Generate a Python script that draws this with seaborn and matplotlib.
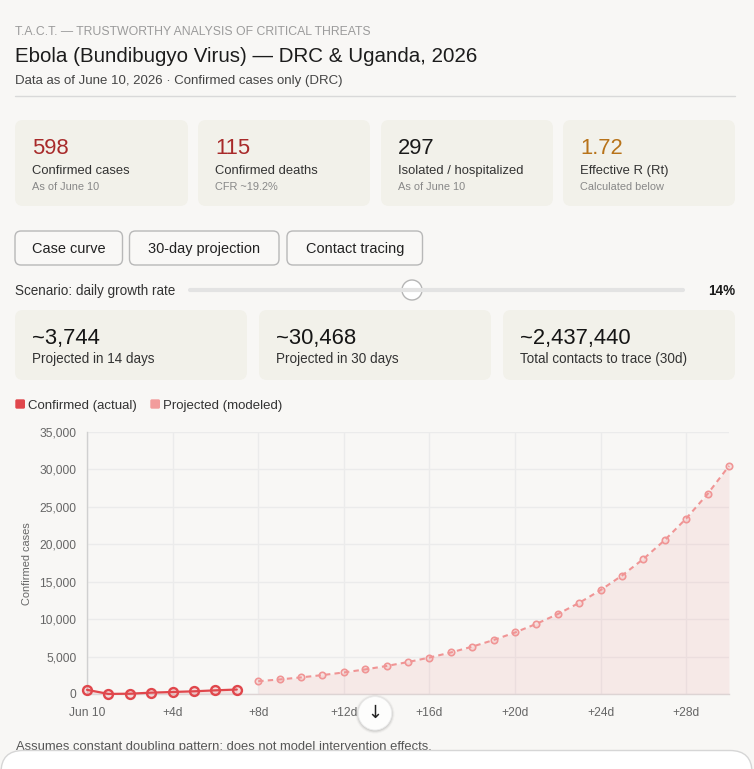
import numpy as np
import pandas as pd
import seaborn as sns
import matplotlib.pyplot as plt
from matplotlib.patches import FancyBboxPatch, Circle
from matplotlib.ticker import FuncFormatter

# ---- data ----
actual_day = [0, 1, 2, 3, 4, 5, 6, 7]
actual_cases = [560, 10, 40, 180, 270, 360, 490, 598]

proj_day = [8, 9, 10, 11, 12, 13, 14, 15, 16, 17, 18, 19, 20,
            21, 22, 23, 24, 25, 26, 27, 28, 29, 30]
proj_cases = [1706, 1945, 2217, 2527, 2881, 3284, 3744, 4269, 4866, 5547, 6324, 7209, 8219,
              9369, 10681, 12176, 13881, 15824, 18040, 20565, 23444, 26726, 30468]

tick_days = [0, 4, 8, 12, 16, 20, 24, 28]
tick_labels = ["Jun 10", "+4d", "+8d", "+12d", "+16d", "+20d", "+24d", "+28d"]

stat_values = ["598", "115", "297", "1.72"]
stat_labels = ["Confirmed cases", "Confirmed deaths", "Isolated / hospitalized", "Effective R (Rt)"]
stat_subs = ["As of June 10", "CFR ~19.2%", "As of June 10", "Calculated below"]

proj_values = ["~3,744", "~30,468", "~2,437,440"]
proj_labels = ["Projected in 14 days", "Projected in 30 days", "Total contacts to trace (30d)"]

tabs = ["Case curve", "30-day projection", "Contact tracing"]
growth_rate = "14%"

BG = "#f8f7f5"
CARD = "#f2f1ea"
RED = "#e0474c"
PINK = "#f09595"

sns.set_theme(style="white")
plt.rcParams["font.family"] = ["Liberation Sans", "DejaVu Sans"]

W, H = 754, 769
fig = plt.figure(figsize=(W / 100, H / 100), dpi=100, facecolor=BG)

def pt(px):
    return px * 0.72

# background layer in pixel coordinates
bg = fig.add_axes([0, 0, 1, 1], zorder=0)
bg.set_xlim(0, W)
bg.set_ylim(H, 0)
bg.axis("off")

def card(x0, y0, x1, y1, fc=CARD, ec="none", r=8, lw=1):
    bg.add_patch(FancyBboxPatch((x0, y0), x1 - x0, y1 - y0,
                                boxstyle=f"round,pad=0,rounding_size={r}",
                                fc=fc, ec=ec, lw=lw))

bg.text(15, 35, "T.A.C.T. — TRUSTWORTHY ANALYSIS OF CRITICAL THREATS",
        fontsize=pt(12.3), color="#9b9b9b", va="baseline")
bg.text(15, 61.7, "Ebola (Bundibugyo Virus) — DRC & Uganda, 2026",
        fontsize=pt(20.5), color="#1c1c1c", va="baseline")
bg.text(15, 84, "Data as of June 10, 2026 · Confirmed cases only (DRC)",
        fontsize=pt(13.2), color="#444444", va="baseline")
bg.plot([15, 735], [95.5, 95.5], color="#d9d9d9", lw=1)

# stat cards
card_x = [(15, 188), (198, 370), (381, 553), (563, 735)]
num_colors = ["#a82a2a", "#a82a2a", "#1a1a1a", "#b8731a"]
for (x0, x1), v, lab, sub, c in zip(card_x, stat_values, stat_labels, stat_subs, num_colors):
    card(x0, 120, x1, 206)
    bg.text(x0 + 17, 154, v, fontsize=pt(22), color=c, va="baseline")
    bg.text(x0 + 17, 174, lab, fontsize=pt(13), color="#333333", va="baseline")
    bg.text(x0 + 17, 190, sub, fontsize=pt(11), color="#888888", va="baseline")

# tab buttons
tab_x = [(15, 122.5), (129.5, 279), (287, 422.5)]
for (x0, x1), t in zip(tab_x, tabs):
    card(x0, 231, x1, 265, fc="#f9f8f6", ec="#b8b8b8", r=6, lw=1)
    bg.text((x0 + x1) / 2, 253.3, t, fontsize=pt(14.5), color="#222222",
            ha="center", va="baseline")

# slider
bg.text(15, 295, "Scenario: daily growth rate", fontsize=pt(13.5), color="#333333", va="baseline")
bg.plot([190, 683], [290, 290], color="#e3e3e3", lw=3, solid_capstyle="round")
bg.add_patch(Circle((412, 290), 10, fc="white", ec="#b5b5b5", lw=1))
bg.text(735, 295, growth_rate, fontsize=pt(13.5), color="#1a1a1a", weight="bold",
        ha="right", va="baseline")

# projection cards
card2_x = [(15, 247), (259, 491), (503, 735)]
for (x0, x1), v, lab in zip(card2_x, proj_values, proj_labels):
    card(x0, 310, x1, 380)
    bg.text(x0 + 17, 344.3, v, fontsize=pt(22), color="#151515", va="baseline")
    bg.text(x0 + 17, 363.3, lab, fontsize=pt(13.5), color="#333333", va="baseline")

# legend (html-style)
card(15.3, 399.3, 25, 408.7, fc=RED, r=1.5)
bg.text(28.5, 409, "Confirmed (actual)", fontsize=pt(13.2), color="#333333", va="baseline")
card(150.3, 399.3, 160, 408.7, fc="#f29c9c", r=1.5)
bg.text(163, 409, "Projected (modeled)", fontsize=pt(13.2), color="#333333", va="baseline")

bg.text(15.5, 750, "Assumes constant doubling pattern; does not model intervention effects.",
        fontsize=pt(13), color="#555555", va="baseline")

# ---- chart ----
L, R, T, B = 87, 729, 432, 694
ax = fig.add_axes([L / W, 1 - B / H, (R - L) / W, (B - T) / H], zorder=1)
ax.set_facecolor("none")

df_act = pd.DataFrame({"day": actual_day, "cases": actual_cases})
df_proj = pd.DataFrame({"day": proj_day, "cases": proj_cases})

ax.fill_between(df_act["day"], 0, df_act["cases"], color=RED, alpha=0.12, lw=0)
ax.fill_between(df_proj["day"], 0, df_proj["cases"], color=PINK, alpha=0.14, lw=0)

sns.lineplot(data=df_act, x="day", y="cases", ax=ax, color=RED, lw=1.6,
             marker="o", markersize=6.4, markeredgewidth=1.7,
             markeredgecolor=RED, markerfacecolor=(0.88, 0.28, 0.30, 0.15),
             clip_on=False, zorder=4)
sns.lineplot(data=df_proj, x="day", y="cases", ax=ax, color=PINK, lw=1.5,
             linestyle=(0, (2.6, 2.0)), marker="o", markersize=4.6, markeredgewidth=1.2,
             markeredgecolor=PINK, markerfacecolor=(0.94, 0.58, 0.58, 0.2),
             clip_on=False, zorder=4)

ax.set_xlim(0, 30)
ax.set_ylim(0, 35000)
ax.set_xticks(tick_days)
ax.set_xticklabels(tick_labels)
ax.set_yticks(range(0, 35001, 5000))
ax.yaxis.set_major_formatter(FuncFormatter(lambda v, p: f"{int(v):,}"))
ax.grid(True, color="#ebebeb", lw=1)
ax.set_axisbelow(True)
ax.tick_params(axis="both", length=pt(8), width=1, color="#ebebeb",
               labelsize=pt(12), labelcolor="#666666", pad=pt(2.5))
ax.tick_params(axis="x", pad=pt(5))
for s in ["top", "right"]:
    ax.spines[s].set_visible(False)
ax.spines["left"].set_color("#d0d0d0")
ax.spines["bottom"].set_color("#ddd4d4")
ax.spines["left"].set_linewidth(1)
ax.spines["bottom"].set_linewidth(1)
ax.set_xlabel("")
ax.set_ylabel("Confirmed cases", fontsize=pt(11), color="#666666", labelpad=pt(8))
ax.yaxis.label.set_position((0, (B - 564) / (B - T)))

# ---- overlay: scroll button and input box ----
top = fig.add_axes([0, 0, 1, 1], zorder=3)
top.set_xlim(0, W)
top.set_ylim(H, 0)
top.axis("off")
for r, a in [(19.5, 0.03), (18.5, 0.05), (17.5, 0.07)]:
    top.add_patch(Circle((375, 714), r, fc="black", alpha=a, lw=0))
top.add_patch(Circle((375, 713.3), 16.7, fc="#fdfdfc", ec="#ececec", lw=0.6))
top.text(375, 713, "↓", fontsize=pt(18), color="#222222", ha="center", va="center",
         family=["DejaVu Sans"])
top.add_patch(FancyBboxPatch((1, 750.5), 751, 60, boxstyle="round,pad=0,rounding_size=22",
                             fc="white", ec="#d6d6d6", lw=1))

fig.savefig("out.png", dpi=100, facecolor=BG)
